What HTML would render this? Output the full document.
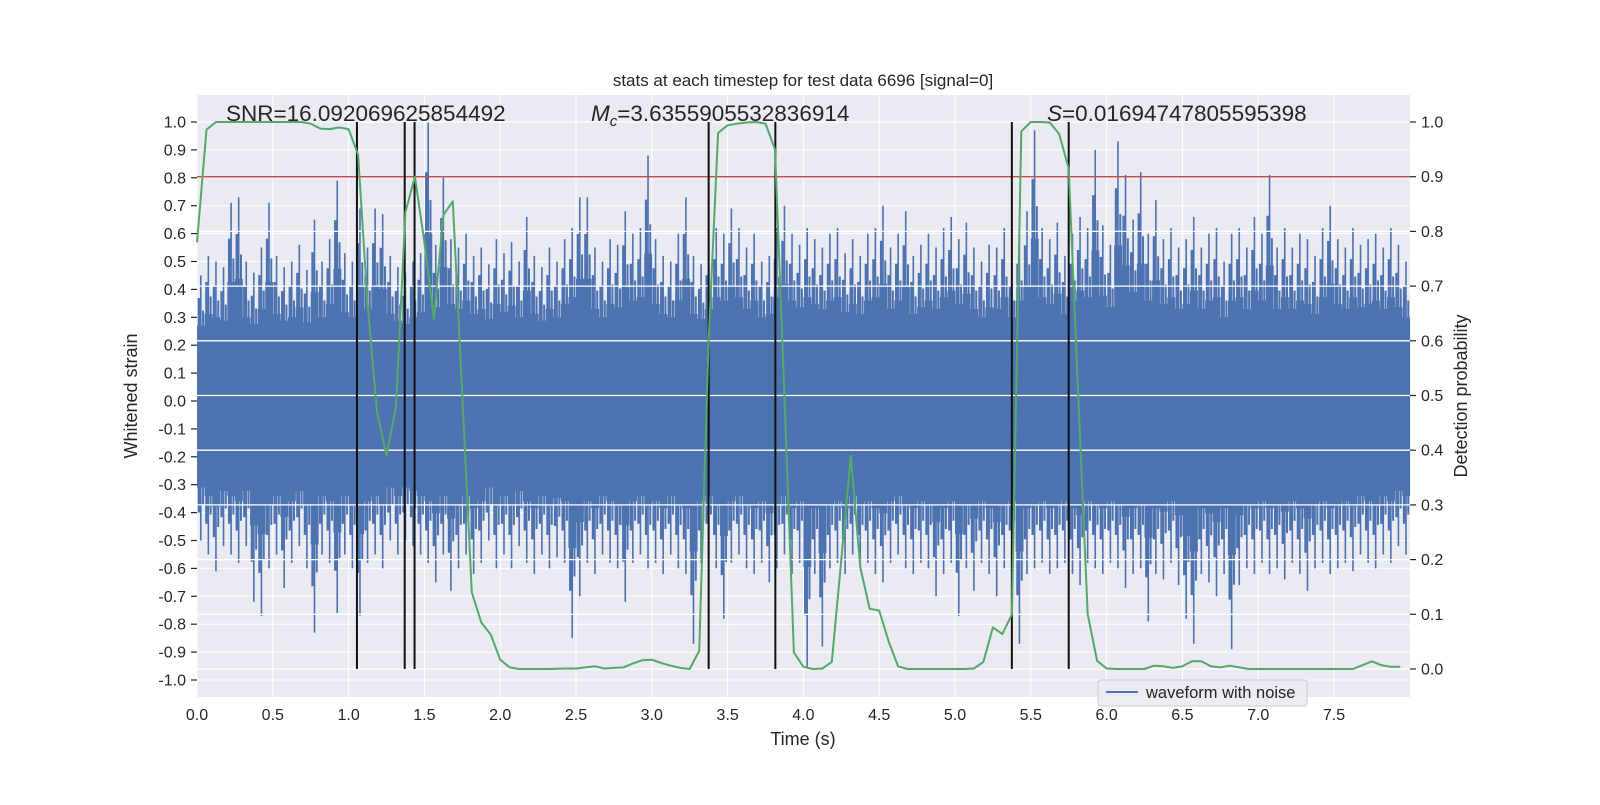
<!DOCTYPE html>
<html><head><meta charset="utf-8"><style>
html,body{margin:0;padding:0;background:#fff;}
svg text{font-family:"Liberation Sans","DejaVu Sans",sans-serif;fill:#262626;}
</style></head><body>
<svg id="chart" width="1600" height="800" viewBox="0 0 1600 800" xmlns="http://www.w3.org/2000/svg">
<rect x="197" y="95" width="1213" height="602" fill="#eaeaf2"/>
<g id="gridL"></g>
<g id="gridX"></g>
<g id="wave"></g>
<g id="gridR"></g>
<g id="marks"></g>
<g id="axes"></g>
<text x="803" y="86" font-size="17" text-anchor="middle">stats at each timestep for test data 6696 [signal=0]</text>
<text x="226" y="121" font-size="22.5">SNR=16.092069625854492</text>
<text x="591" y="121" font-size="22.5"><tspan font-style="italic">M</tspan><tspan font-style="italic" font-size="15" dy="5">c</tspan><tspan dy="-5">=3.6355905532836914</tspan></text>
<text x="1047" y="121" font-size="22.5"><tspan font-style="italic">S</tspan>=0.01694747805595398</text>
<text x="803" y="745" font-size="18" text-anchor="middle">Time (s)</text>
<text x="137" y="396" font-size="18" text-anchor="middle" transform="rotate(-90 137 396)">Whitened strain</text>
<text x="1467" y="396" font-size="18" text-anchor="middle" transform="rotate(-90 1467 396)">Detection probability</text>
<g>
<rect x="1098" y="680" width="209" height="26" rx="3" fill="#eaeaf2" fill-opacity="0.85" stroke="#cccccc"/>
<line x1="1106" y1="692" x2="1138" y2="692" stroke="#4c72b0" stroke-width="2"/>
<text x="1146" y="698" font-size="16.5">waveform with noise</text>
</g>
</svg>
<script>
const probValues=[0.78,0.986,1,1,1,1,1,1,1,1,1,1,0.997,0.988,0.987,0.99,0.987,0.94,0.67,0.47,0.39,0.48,0.835,0.90,0.78,0.64,0.83,0.855,0.50,0.14,0.085,0.063,0.017,0.003,0,0,0,0,0.0005,0.001,0.001,0.003,0.005,0.001,0.002,0.003,0.01,0.016,0.017,0.011,0.006,0.002,0,0.033,0.6,0.98,0.994,0.997,0.999,1,0.997,0.95,0.5,0.03,0.004,0,0.001,0.013,0.2,0.39,0.186,0.11,0.107,0.05,0.005,0,0,0,0,0,0,0,0.001,0.013,0.076,0.064,0.10,0.983,1,1,0.999,0.978,0.915,0.5,0.10,0.015,0.001,0,0,0,0,0.006,0.005,0.002,0.005,0.014,0.014,0.005,0.003,0.006,0.003,0,0,0,0,0,0,0,0,0,0,0,0,0.007,0.014,0.007,0.004,0.004];
const probStep=0.0625;
const waveMax=[0.45,0.52,0.50,0.48,0.71,0.73,0.50,0.46,0.55,0.71,0.52,0.48,0.50,0.56,0.47,0.65,0.50,0.58,0.79,0.53,0.50,0.69,0.55,0.69,0.67,0.52,0.48,0.46,0.50,0.53,1.00,0.56,0.80,0.58,0.55,0.60,0.52,0.55,0.49,0.58,0.53,0.57,0.50,0.66,0.52,0.48,0.55,0.50,0.58,0.62,0.73,0.73,0.55,0.50,0.58,0.56,0.68,0.60,0.62,0.88,0.58,0.52,0.50,0.60,0.73,0.52,0.49,0.55,0.62,0.60,0.69,0.62,0.55,0.60,0.50,0.52,0.62,0.70,0.60,0.56,0.62,0.58,0.55,0.60,0.62,0.53,0.58,0.52,0.60,0.62,0.70,0.55,0.60,0.68,0.52,0.56,0.60,0.55,0.62,0.66,0.58,0.64,0.55,0.50,0.56,0.55,0.62,0.50,0.60,0.68,0.97,0.62,0.58,0.64,0.52,0.60,0.66,0.62,0.90,0.63,0.56,0.93,0.81,0.65,0.82,0.60,0.72,0.58,0.62,0.55,0.58,0.66,0.55,0.60,0.62,0.50,0.60,0.62,0.55,0.66,0.60,0.81,0.55,0.62,0.55,0.60,0.58,0.52,0.62,0.70,0.58,0.55,0.62,0.56,0.58,0.60,0.55,0.62,0.56,0.50];
const waveMin=[-0.50,-0.55,-0.61,-0.52,-0.55,-0.58,-0.52,-0.72,-0.77,-0.60,-0.55,-0.67,-0.58,-0.52,-0.60,-0.83,-0.55,-0.58,-0.76,-0.55,-0.60,-0.77,-0.58,-0.55,-0.60,-0.50,-0.55,-0.50,-0.52,-0.55,-0.58,-0.65,-0.55,-0.68,-0.60,-0.55,-0.62,-0.58,-0.50,-0.60,-0.55,-0.60,-0.52,-0.58,-0.62,-0.55,-0.60,-0.56,-0.58,-0.85,-0.70,-0.58,-0.62,-0.55,-0.58,-0.60,-0.72,-0.58,-0.55,-0.60,-0.58,-0.62,-0.55,-0.60,-0.62,-0.87,-0.58,-0.55,-0.60,-0.78,-0.58,-0.55,-0.60,-0.62,-0.58,-0.65,-0.60,-0.55,-0.62,-0.58,-0.96,-0.62,-0.88,-0.60,-0.58,-0.62,-0.55,-0.60,-0.58,-0.62,-0.65,-0.58,-0.55,-0.60,-0.62,-0.58,-0.60,-0.70,-0.62,-0.58,-0.77,-0.60,-0.68,-0.58,-0.62,-0.70,-0.60,-0.58,-0.87,-0.62,-0.60,-0.58,-0.62,-0.60,-0.58,-0.62,-0.66,-0.58,-0.60,-0.62,-0.58,-0.60,-0.67,-0.62,-0.60,-0.79,-0.62,-0.64,-0.58,-0.66,-0.78,-0.87,-0.62,-0.65,-0.70,-0.62,-0.89,-0.66,-0.60,-0.62,-0.58,-0.62,-0.60,-0.64,-0.58,-0.62,-0.68,-0.60,-0.58,-0.62,-0.60,-0.58,-0.61,-0.55,-0.58,-0.60,-0.55,-0.58,-0.52,-0.55];
const waveBin=0.05;
const triggerTimes=[1.055,1.37,1.435,3.375,3.815,5.375,5.75];
const threshold=0.9;
const xTicks=[0,0.5,1,1.5,2,2.5,3,3.5,4,4.5,5,5.5,6,6.5,7,7.5];
const yTicksL=[1.0,0.9,0.8,0.7,0.6,0.5,0.4,0.3,0.2,0.1,0.0,-0.1,-0.2,-0.3,-0.4,-0.5,-0.6,-0.7,-0.8,-0.9,-1.0];
const yTicksR=[1.0,0.9,0.8,0.7,0.6,0.5,0.4,0.3,0.2,0.1,0.0];

const NS='http://www.w3.org/2000/svg';
const X0=197,X1=1410,Y0=95,Y1=697;
const xS=t=>197+t*151.6;
const yL=v=>401-v*279;
const yR=p=>669-p*547;
function mk(tag,attrs,parent){const e=document.createElementNS(NS,tag);for(const k in attrs)e.setAttribute(k,attrs[k]);parent.appendChild(e);return e;}
const gL=document.getElementById('gridL'),gX=document.getElementById('gridX'),gR=document.getElementById('gridR'),wave=document.getElementById('wave'),marks=document.getElementById('marks'),axes=document.getElementById('axes');

yTicksL.forEach(v=>{const y=yL(v);
 const l=mk('line',{x1:X0,x2:X1,y1:y,y2:y,stroke:'#fff','stroke-width':1},gL);
 
 
 const tk=mk('line',{x1:X0-6,x2:X0,y1:y,y2:y,stroke:'#262626','stroke-width':1.2},axes);
 
 
 const t=mk('text',{x:X0-11,y:y+5.5,'font-size':16,'text-anchor':'end'},axes);t.textContent=v.toFixed(1);
 
 
});
xTicks.forEach(v=>{const x=xS(v);
 const l=mk('line',{x1:x,x2:x,y1:Y0,y2:Y1,stroke:'#fff','stroke-width':1},gX);
 
 
 const t=mk('text',{x:x,y:720,'font-size':16,'text-anchor':'middle'},axes);t.textContent=v.toFixed(1);
 
 
});
yTicksR.forEach(v=>{const y=yR(v);
 const l=mk('line',{x1:X0,x2:X1,y1:y,y2:y,stroke:'#fff','stroke-width':1.3},gR);
 
 
 const tk=mk('line',{x1:X1,x2:X1+6,y1:y,y2:y,stroke:'#262626','stroke-width':1.2},axes);
 
 
 const t=mk('text',{x:X1+11,y:y+5.5,'font-size':16},axes);t.textContent=v.toFixed(1);
 
 
});

waveMax.forEach((mx,i)=>{const mn=waveMin[i];
 const xa=xS(i*waveBin),xb=xS((i+1)*waveBin),w=xb-xa,xc=(xa+xb)/2;
 const core=mk('rect',{x:xa,y:yL(mx*0.6),width:w+0.3,height:yL(mn*0.62)-yL(mx*0.6),fill:'#4c72b0'},wave);
 
 
 const mid=mk('line',{x1:xa+w*0.25,x2:xa+w*0.25,y1:yL(mx*0.82),y2:yL(mn*0.8),stroke:'#4c72b0','stroke-width':2.5},wave);
 
 
 const mid2=mk('line',{x1:xa+w*0.8,x2:xa+w*0.8,y1:yL(mx*0.72),y2:yL(mn*0.74),stroke:'#4c72b0','stroke-width':2},wave);
 
 
 const sp=mk('line',{x1:xc,x2:xc,y1:yL(mx),y2:yL(mn),stroke:'#4c72b0','stroke-width':1.6},wave);
 
 
});

const th=mk('line',{x1:X0,x2:X1,y1:yR(threshold),y2:yR(threshold),stroke:'#c44e52','stroke-width':1.5},marks);


triggerTimes.forEach(t=>{
 const l=mk('line',{x1:xS(t),x2:xS(t),y1:yR(1),y2:yR(0),stroke:'#111','stroke-width':2},marks);
 
 
});
const pts=probValues.map((p,i)=>xS(i*probStep).toFixed(1)+','+yR(p).toFixed(1)).join(' ');
const pl=mk('polyline',{points:pts,fill:'none',stroke:'#55a868','stroke-width':2,'stroke-linejoin':'round'},marks);


</script>
</body></html>
